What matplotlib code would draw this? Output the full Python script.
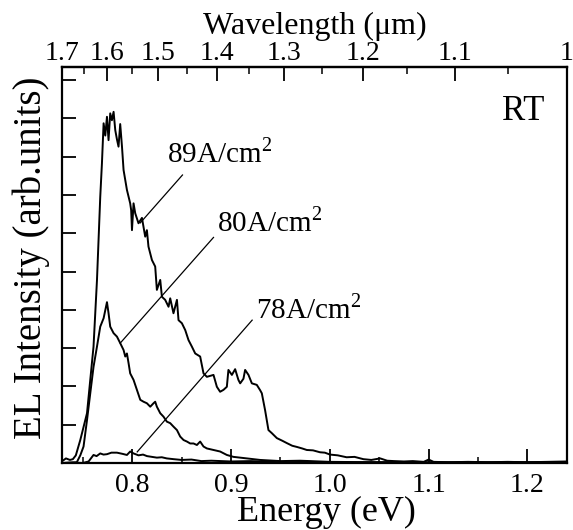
import matplotlib
matplotlib.use('Agg')
import matplotlib.pyplot as plt
import numpy as np

plt.rcParams['font.family'] = ['Liberation Serif', 'DejaVu Serif']
plt.rcParams['mathtext.fontset'] = 'custom'
plt.rcParams['mathtext.rm'] = 'Liberation Serif'

# EL spectra at room temperature
e89 = [0.7293, 0.7330, 0.7370, 0.7400, 0.7430, 0.7475, 0.7543, 0.7609, 0.7644, 0.7677,
       0.7694, 0.7711, 0.7728, 0.7745, 0.7761, 0.7778, 0.7795, 0.7812, 0.7829, 0.7846,
       0.7862, 0.7879, 0.7897, 0.7913, 0.7947, 0.7980, 0.7990, 0.7998, 0.8014, 0.8031,
       0.8064, 0.8099, 0.8132, 0.8149, 0.8165, 0.8200, 0.8233, 0.8250, 0.8284, 0.8301,
       0.8334, 0.8368, 0.8385, 0.8418, 0.8453, 0.8469, 0.8503, 0.8537, 0.8570, 0.8604,
       0.8638, 0.8688, 0.8722, 0.8756, 0.8823, 0.8857, 0.8890, 0.8924, 0.8958, 0.8974,
       0.9009, 0.9042, 0.9075, 0.9093, 0.9126, 0.9143, 0.9177, 0.9211, 0.9261, 0.9295,
       0.9312, 0.9345, 0.9379, 0.9413, 0.9464, 0.9520, 0.9565, 0.9620, 0.9666, 0.9720,
       0.9767, 0.9830, 0.9901, 0.9950, 1.0002, 1.0080, 1.0170, 1.0250, 1.0340, 1.0420,
       1.0510, 1.0580, 1.0650, 1.0750, 1.0840, 1.0950, 1.1000, 1.1050, 1.1200, 1.1400,
       1.1600, 1.1800, 1.2000, 1.2200, 1.2398]
i89 = [0.05, 0.12, 0.08, 0.10, 0.20, 0.60, 1.30, 3.04, 4.78, 6.95,
       7.82, 8.87, 8.55, 9.04, 8.43, 9.13, 8.95, 9.17, 8.69, 8.45,
       8.26, 8.85, 8.26, 7.65, 7.13, 6.78, 6.60, 6.08, 6.78, 6.52,
       6.26, 6.40, 5.91, 6.08, 5.65, 5.30, 5.13, 4.52, 4.78, 4.34,
       4.26, 4.08, 4.30, 3.91, 4.26, 3.73, 3.65, 3.47, 3.21, 3.04,
       2.86, 2.78, 2.34, 2.25, 2.30, 1.99, 1.86, 1.91, 1.99, 2.43,
       2.30, 2.45, 2.17, 2.08, 2.20, 2.43, 2.30, 2.08, 2.04, 1.90,
       1.82, 1.38, 0.86, 0.78, 0.65, 0.58, 0.52, 0.45, 0.42, 0.38,
       0.34, 0.33, 0.28, 0.27, 0.22, 0.20, 0.15, 0.16, 0.10, 0.08,
       0.12, 0.06, 0.05, 0.04, 0.05, 0.03, 0.09, 0.03, 0.02, 0.03,
       0.02, 0.03, 0.02, 0.03, 0.04]

e80 = [0.7293, 0.7440, 0.7475, 0.7508, 0.7543, 0.7576, 0.7609, 0.7644, 0.7677, 0.7711,
       0.7728, 0.7745, 0.7761, 0.7778, 0.7812, 0.7846, 0.7879, 0.7913, 0.7930, 0.7947,
       0.7964, 0.7980, 0.8014, 0.8048, 0.8082, 0.8115, 0.8149, 0.8183, 0.8216, 0.8233,
       0.8250, 0.8284, 0.8317, 0.8351, 0.8385, 0.8418, 0.8453, 0.8486, 0.8520, 0.8554,
       0.8587, 0.8621, 0.8655, 0.8688, 0.8722, 0.8756, 0.8823, 0.8890, 0.8958, 0.9025,
       0.9160, 0.9295, 0.9500, 0.9700, 1.0000, 1.0500, 1.1000, 1.1500, 1.2000, 1.2398]
i80 = [0.00, 0.02, 0.20, 0.43, 1.12, 1.82, 2.51, 3.04, 3.56, 3.78,
       3.99, 4.20, 3.91, 3.56, 3.39, 3.30, 3.13, 2.95, 2.78, 2.86,
       2.60, 2.34, 2.17, 1.91, 1.65, 1.60, 1.56, 1.47, 1.56, 1.60,
       1.47, 1.30, 1.21, 1.08, 1.04, 0.95, 0.86, 0.69, 0.60, 0.56,
       0.51, 0.51, 0.47, 0.56, 0.43, 0.38, 0.34, 0.30, 0.21, 0.16,
       0.12, 0.08, 0.05, 0.06, 0.03, 0.02, 0.02, 0.01, 0.02, 0.02]

e78 = [0.7293, 0.7400, 0.7500, 0.7559, 0.7609, 0.7640, 0.7677, 0.7710, 0.7745, 0.7790,
       0.7846, 0.7900, 0.7947, 0.7980, 0.8014, 0.8064, 0.8110, 0.8150, 0.8200, 0.8250,
       0.8300, 0.8350, 0.8420, 0.8500, 0.8600, 0.8700, 0.8800, 0.9000, 0.9200, 0.9500,
       0.9800, 1.0000, 1.0500, 1.1000, 1.1500, 1.2000, 1.2398]
i78 = [0.00, 0.01, 0.00, 0.04, 0.21, 0.18, 0.25, 0.22, 0.23, 0.27,
       0.27, 0.24, 0.21, 0.30, 0.25, 0.20, 0.22, 0.18, 0.16, 0.14,
       0.15, 0.12, 0.10, 0.08, 0.09, 0.05, 0.06, 0.04, 0.05, 0.02,
       0.03, 0.01, 0.02, 0.01, 0.02, 0.01, 0.02]

# labels: text anchor (E, I) and leader line (start -> end on curve)
labels = ['89A/cm$^{\\mathregular{2}}$', '80A/cm$^{\\mathregular{2}}$', '78A/cm$^{\\mathregular{2}}$']
label_xy = [(0.8352, 7.84), (0.8857, 6.04), (0.9254, 3.79)]
leader_from = [(0.8509, 7.52), (0.8823, 5.89), (0.9214, 3.73)]
leader_to = [(0.8082, 6.27), (0.7879, 3.13), (0.8051, 0.29)]

wl_ticks = [1.7, 1.6, 1.5, 1.4, 1.3, 1.2, 1.1, 1.0]
wl_labels = ['1.7', '1.6', '1.5', '1.4', '1.3', '1.2', '1.1', '1']
wl_minor = [1.65, 1.55, 1.45, 1.35, 1.25, 1.15, 1.05]
hc = 1.2398  # eV*um

fig = plt.figure(figsize=(5.73, 5.30), dpi=100)
ax = fig.add_axes([62/573, 67/530, 505/573, 396/530])

for e, i in [(e89, i89), (e80, i80), (e78, i78)]:
    ax.plot(e, i, color='black', lw=1.4)

for txt, xy, a, b in zip(labels, label_xy, leader_from, leader_to):
    ax.text(xy[0], xy[1], txt, fontsize=21, ha='left', va='baseline')
    ax.plot([a[0], b[0]], [a[1], b[1]], color='black', lw=0.9)

ax.text(1.2176, 8.96, 'RT', fontsize=25, ha='right', va='baseline')

ax.set_xlim(0.7290, 1.2400)
ax.set_ylim(0, 10.34)
ax.set_xticks([0.8, 0.9, 1.0, 1.1, 1.2])
ax.set_xticklabels(['0.8', '0.9', '1.0', '1.1', '1.2'])
ax.set_xticks([0.75, 0.85, 0.95, 1.05, 1.15], minor=True)
ax.set_yticks(np.arange(1, 11))
ax.set_yticklabels([])
ax.tick_params(which='major', direction='in', length=10, width=1.3, labelsize=20, pad=7,
               top=False, right=False)
ax.tick_params(which='minor', direction='in', length=4, width=1.1, top=False, right=False)
for s in ax.spines.values():
    s.set_linewidth(1.6)

ax.set_xlabel('Energy (eV)', fontsize=26)
ax.xaxis.set_label_coords(0.523, -0.083)
ax.set_ylabel('EL Intensity (arb.units)', fontsize=28)
ax.yaxis.set_label_coords(-0.024, 0.519)

def e2wl(x):
    x = np.asarray(x, dtype=float)
    return hc / np.where(np.abs(x) < 1e-6, 1e-6, x)

top = ax.secondary_xaxis('top', functions=(e2wl, e2wl))
top.set_xticks(wl_ticks)
top.set_xticklabels(wl_labels)
top.set_xticks(wl_minor, minor=True)
top.tick_params(which='major', direction='in', length=10, width=1.3, labelsize=20, pad=1)
top.tick_params(which='minor', direction='in', length=5, width=1.1)
top.spines['top'].set_linewidth(1.6)
top.set_xlabel('Wavelength (\u03bcm)', fontsize=23, labelpad=5)

fig.savefig('out.png', dpi=100)
